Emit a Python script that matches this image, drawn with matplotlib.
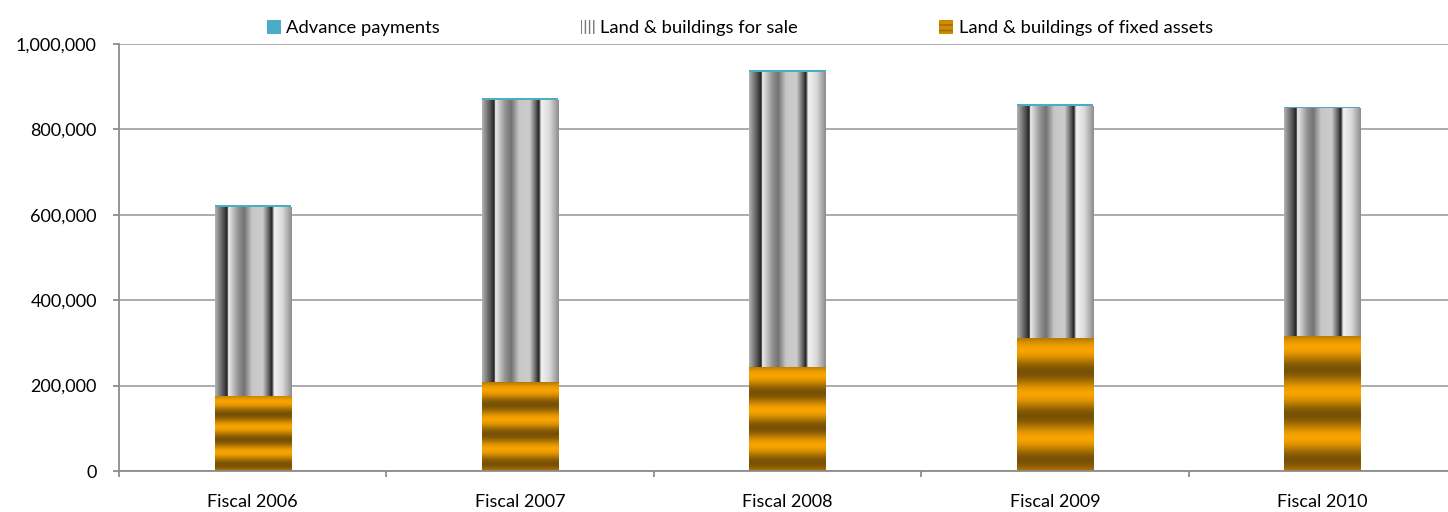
import matplotlib
matplotlib.use("Agg")
import matplotlib.pyplot as plt
import numpy as np
from matplotlib.patches import Patch
from matplotlib.ticker import FuncFormatter

# --- data ---
years = ["Fiscal 2006", "Fiscal 2007", "Fiscal 2008", "Fiscal 2009", "Fiscal 2010"]
fixed_assets = [176000, 208000, 244000, 311000, 317000]
for_sale = [442000, 661000, 691000, 544000, 532000]
advance = [5000, 4000, 4000, 4000, 3000]

plt.rcParams['font.family'] = ['Lato', 'DejaVu Sans']

fig = plt.figure(figsize=(14.48, 5.12), dpi=100)
ax = fig.add_axes([119 / 1448, 41 / 512, 1337 / 1448, 427 / 512])

x = np.arange(len(years))
width = 0.285
fixed_assets = np.array(fixed_assets)
for_sale = np.array(for_sale)
advance = np.array(advance)

# gray "cylinder" stripes across the bar width
gx = np.linspace(0, 1, 200)
gray_prof = np.interp(gx,
                      [0, 0.12, 0.16, 0.17, 0.30, 0.38, 0.48, 0.62, 0.70, 0.74, 0.77, 0.88, 1.0],
                      [0.70, 0.28, 0.12, 0.93, 0.58, 0.45, 0.78, 0.80, 0.38, 0.12, 0.95, 0.85, 0.55])
gray_img = np.repeat(gray_prof[None, :], 2, axis=0)
gray_rgb = np.dstack([gray_img] * 3)

# orange horizontal bands
oy = np.linspace(0, 1, 300)
w = 0.5 + 0.5 * np.cos(2 * np.pi * 3 * (oy - 0.08) + np.pi)  # 0 = dark, 1 = light
light = np.array([0.97, 0.64, 0.0])
dark = np.array([0.47, 0.32, 0.02])
orange_rgb = dark[None, :] * (1 - w[:, None]) + light[None, :] * w[:, None]
orange_rgb = np.repeat(orange_rgb[:, None, :], 2, axis=1)

b1 = ax.bar(x, fixed_assets, width, color='#e39a00', zorder=2)
b2 = ax.bar(x, for_sale, width, bottom=fixed_assets, color='#999999', zorder=2)
b3 = ax.bar(x, advance, width, bottom=fixed_assets + for_sale, color='#4bacc6', zorder=3)


def fill_gradient(bars, rgb):
    for p in bars:
        x0, y0 = p.get_x(), p.get_y()
        x1, y1 = x0 + p.get_width(), y0 + p.get_height()
        im = ax.imshow(rgb, extent=[x0, x1, y1, y0], aspect='auto',
                       interpolation='bilinear', zorder=2.5)
        im.set_clip_path(p)


fill_gradient(b1, orange_rgb)
fill_gradient(b2, gray_rgb)

ax.set_xlim(-0.5, len(years) - 0.5)
ax.set_ylim(0, 1000000)
ax.set_yticks(np.arange(0, 1000001, 200000))
ax.yaxis.set_major_formatter(FuncFormatter(lambda v, _: f"{int(v):,}"))
ax.set_xticks(x)
ax.set_xticklabels(years)
ax.set_xticks(np.arange(-0.5, len(years), 1), minor=True)

ax.grid(axis='y', color='#a6a6a6', linewidth=1.3, zorder=0)
ax.set_axisbelow(True)
for s in ['top', 'right']:
    ax.spines[s].set_visible(False)
for s in ['left', 'bottom']:
    ax.spines[s].set_color('#8c8c8c')
    ax.spines[s].set_linewidth(1.3)

ax.tick_params(axis='y', length=4.5, color='#8c8c8c', width=1.3, labelsize=13, pad=11.5)
ax.tick_params(axis='x', which='major', length=0, labelsize=13, pad=16.5)
ax.tick_params(axis='x', which='minor', length=4.5, color='#8c8c8c', width=1.3)

handles = [Patch(facecolor='#4bacc6'),
           Patch(facecolor='white', edgecolor='#777777', hatch='||||', linewidth=0),
           Patch(facecolor='#d08c00', edgecolor='#9a6a00', hatch='---', linewidth=0)]
labels = ["Advance payments", "Land & buildings for sale", "Land & buildings of fixed assets"]
fig.legend(handles, labels, loc='upper center', bbox_to_anchor=(0.511, 0.993), ncol=3,
           frameon=False, fontsize=13.2, handlelength=0.75, handleheight=0.75,
           handletextpad=0.3, columnspacing=7.7)

fig.savefig("out.png", dpi=100)
